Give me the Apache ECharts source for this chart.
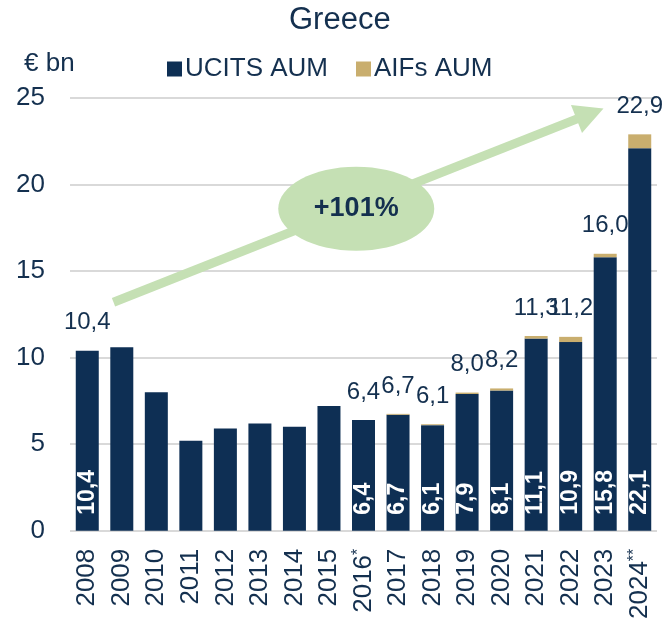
<!DOCTYPE html>
<html>
<head>
<meta charset="utf-8">
<script src="https://cdn.jsdelivr.net/npm/echarts@6/dist/echarts.min.js"></script>
<style>
html,body{margin:0;padding:0;background:#fff;}
#c{width:671px;height:622px;}
</style>
</head>
<body>
<div id="c"></div>
<script>
// ---- data ----
const categories = ['2008','2009','2010','2011','2012','2013','2014','2015','2016','2017','2018','2019','2020','2021','2022','2023','2024'];
const categoryMarks = ['', '', '', '', '', '', '', '', '*', '', '', '', '', '', '', '', '**'];
const ucitsAUM = [10.4, 10.6, 8.0, 5.2, 5.9, 6.2, 6.0, 7.2, 6.4, 6.7, 6.1, 7.9, 8.1, 11.1, 10.9, 15.8, 22.1];
const aifsAUM  = [0, 0, 0, 0, 0, 0, 0, 0, 0, 0.05, 0.05, 0.08, 0.12, 0.15, 0.3, 0.2, 0.8];
const totalLabels = [10.4, null, null, null, null, null, null, null, 6.4, 6.7, 6.1, 8.0, 8.2, 11.3, 11.2, 16.0, 22.9];
const showInside = [true, false, false, false, false, false, false, false, true, true, true, true, true, true, true, true, true];
const yTicks = [0, 5, 10, 15, 20, 25];
const growthText = '+101%';
const arrowFrom = [0.76, 13.2];   // [category index, value]
const arrowTo = [14.95, 24.4];
const bubbleAt = [7.79, 18.6];

const NAVY = '#0e2f54';
const GOLD = '#c9ae6e';
const TEXT = '#14304f';
const GREEN = '#c5e0b4';
const FONT = '"Liberation Sans", Arial, Helvetica, sans-serif';
const fmt = v => v.toFixed(1).replace('.', ',');

const chart = echarts.init(document.getElementById('c'), null, {renderer: 'canvas'});
chart.setOption({
  animation: false,
  textStyle: {fontFamily: FONT, color: TEXT},
  title: [
    {text: 'Greece', left: 289, top: 5, padding: 0,
     textStyle: {fontFamily: FONT, fontSize: 31, fontWeight: 'normal', color: TEXT}},
    {text: '€ bn', left: 24, top: 51, padding: 0,
     textStyle: {fontFamily: FONT, fontSize: 26, fontWeight: 'normal', color: TEXT}}
  ],
  legend: {
    data: ['UCITS AUM', 'AIFs AUM'],
    left: 162, top: 51,
    icon: 'rect', itemWidth: 15, itemHeight: 15, itemGap: 28,
    textStyle: {fontFamily: FONT, fontSize: 26, color: TEXT, padding: [0, 0, 0, -2]}
  },
  grid: {left: 70, right: 14, top: 98, bottom: 84, containLabel: false},
  xAxis: {
    type: 'category', data: categories,
    axisLine: {show: false}, axisTick: {show: false},
    axisLabel: {
      rotate: 90, margin: 18, fontFamily: FONT, fontSize: 26, color: TEXT,
      formatter: (v, i) => categoryMarks[i] ? '{m|' + v + '}{s|' + categoryMarks[i] + '}' : v,
      rich: {
        m: {fontSize: 26, fontFamily: FONT, color: TEXT, verticalAlign: 'bottom', lineHeight: 26},
        s: {fontSize: 16, lineHeight: 16, color: TEXT, verticalAlign: 'top', fontFamily: FONT, padding: [0, 0, 16, 0]}
      }
    }
  },
  yAxis: {
    type: 'value', min: yTicks[0], max: yTicks[yTicks.length - 1], interval: 5,
    axisLine: {show: false}, axisTick: {show: false},
    axisLabel: {margin: 25, fontFamily: FONT, fontSize: 26, color: TEXT},
    splitLine: {lineStyle: {color: '#d9d9d9', width: 2}}
  },
  series: [
    {
      name: 'UCITS AUM', type: 'bar', stack: 'aum', data: ucitsAUM, barWidth: 23,
      itemStyle: {color: NAVY},
      label: {
        show: true, position: 'insideBottom', rotate: 90, align: 'left', verticalAlign: 'middle',
        distance: 16, color: '#fff', fontWeight: 'bold', fontSize: 23, fontFamily: FONT,
        formatter: p => showInside[p.dataIndex] ? fmt(p.value) : ''
      }
    },
    {
      name: 'AIFs AUM', type: 'bar', stack: 'aum', data: aifsAUM, barWidth: 23,
      itemStyle: {color: GOLD},
      label: {
        show: true, position: 'top', distance: 16, color: TEXT, fontSize: 24, fontFamily: FONT,
        formatter: p => totalLabels[p.dataIndex] == null ? '' : fmt(totalLabels[p.dataIndex])
      }
    }
  ]
});

// annotation: arrow + bubble, positioned via axis conversion
function toPx(pt) {
  const a = chart.convertToPixel({xAxisIndex: 0, yAxisIndex: 0}, [0, pt[1]]);
  const b = chart.convertToPixel({xAxisIndex: 0, yAxisIndex: 0}, [1, pt[1]]);
  return [a[0] + (b[0] - a[0]) * pt[0], a[1]];
}
const p0 = toPx(arrowFrom), p1 = toPx(arrowTo), pc = toPx(bubbleAt);
const dx = p1[0] - p0[0], dy = p1[1] - p0[1], L = Math.hypot(dx, dy);
const ux = dx / L, uy = dy / L, nx = -uy, ny = ux;
const headLen = 29, headHalf = 15;
const base = [p1[0] - ux * headLen, p1[1] - uy * headLen];
chart.setOption({
  graphic: [
    {type: 'line', z: 10, shape: {x1: p0[0], y1: p0[1], x2: base[0] + ux * 2, y2: base[1] + uy * 2},
     style: {stroke: GREEN, lineWidth: 9, lineCap: 'butt'}},
    {type: 'polygon', z: 10, shape: {points: [p1, [base[0] + nx * headHalf, base[1] + ny * headHalf], [base[0] - nx * headHalf, base[1] - ny * headHalf]]},
     style: {fill: GREEN}},
    {type: 'ellipse', z: 11, shape: {cx: pc[0], cy: pc[1], rx: 78, ry: 42}, style: {fill: GREEN}},
    {type: 'text', z: 12, x: pc[0], y: pc[1],
     style: {text: growthText, align: 'center', verticalAlign: 'middle', fill: TEXT,
             font: 'bold 27px ' + FONT}}
  ]
});
</script>
</body>
</html>
